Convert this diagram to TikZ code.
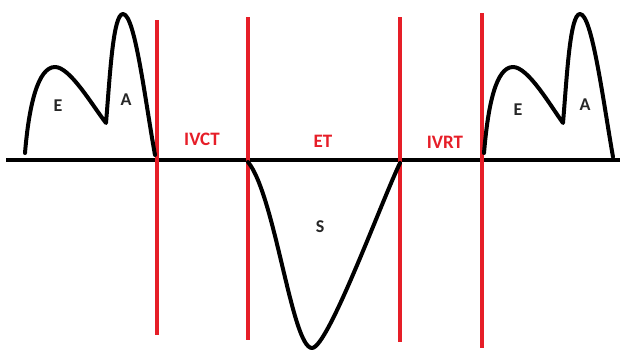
\documentclass[tikz,border=0pt]{standalone}
\usepackage{fontspec}
\setmainfont{Carlito}
\usetikzlibrary{positioning}

\definecolor{phasered}{RGB}{230,30,40}

\begin{document}
\begin{tikzpicture}[
    x=1pt, y=-1pt,
    wave/.style={line width=4pt, line cap=round, line join=round},
    divider/.style={draw=phasered, line width=3.6pt},
    wavelbl/.style={font=\fontsize{18}{20}\selectfont\bfseries, text=black!85},
    phaselbl/.style={font=\fontsize{19}{21}\selectfont\bfseries, text=phasered}
  ]
  \useasboundingbox (0,0) rectangle (620,351);

  % baseline
  \coordinate (b0) at (6,160);
  \coordinate (b1) at (620,160);
  \draw[line width=4pt] (b0) -- (b1);

  % phase dividers
  \coordinate (d1t) at (157,20);  \coordinate (d1b) at (157,335);
  \coordinate (d2t) at (248,17);  \coordinate (d2b) at (248,340);
  \coordinate (d3t) at (400,17);  \coordinate (d3b) at (400,342);
  \coordinate (d4t) at (482,13);  \coordinate (d4b) at (482,348);
  \draw[divider] (d1t) -- (d1b);
  \draw[divider] (d2t) -- (d2b);
  \draw[divider] (d3t) -- (d3b);
  \draw[divider] (d4t) -- (d4b);

  % mitral inflow, first beat
  \draw[wave] (25,153) .. controls (29,105) and (38,67) .. (55,67)
    .. controls (70,67) and (92,105) .. (106,123)
    .. controls (110,75) and (113,14) .. (123,14)
    .. controls (135,14) and (145,100) .. (155,155);

  % systolic wave
  \draw[wave] (248,162) .. controls (275,195) and (292,348) .. (312,348)
    .. controls (328,348) and (382,200) .. (400,163);

  % mitral inflow, second beat
  \draw[wave] (484,153) .. controls (488,105) and (496,67) .. (513,67)
    .. controls (528,67) and (550,105) .. (563,123)
    .. controls (567,75) and (570,14) .. (580,14)
    .. controls (592,14) and (603,100) .. (613,157);

  % labels
  \node[wavelbl] (e1) at (58,106) {E};
  \node[wavelbl] (a1) at (126,100) {A};
  \node[wavelbl] (s) at (320,227) {S};
  \node[wavelbl] (e2) at (518,110) {E};
  \node[wavelbl] (a2) at (585,105) {A};

  \node[phaselbl] (ivct) at (202,139) {IVCT};
  \node[phaselbl] (et) at (323,141) {ET};
  \node[phaselbl] (ivrt) at (445,142) {IVRT};
\end{tikzpicture}
\end{document}
